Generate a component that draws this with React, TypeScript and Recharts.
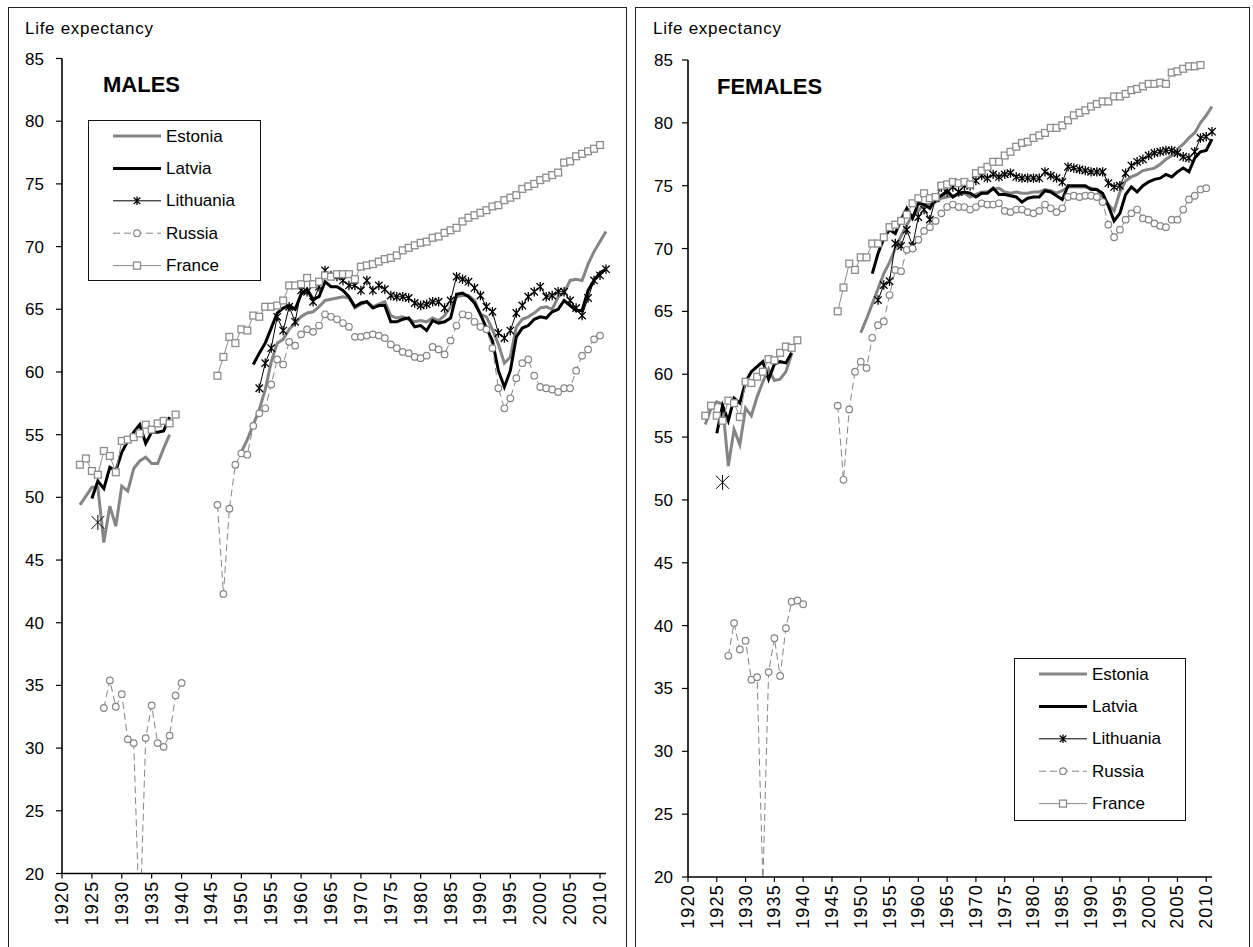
import React from "react";
import { LineChart, Line, XAxis, YAxis } from "recharts";

const _ = null;
const FONT = '"Liberation Sans", Arial, sans-serif';
const FIRST_YEAR = 1920;
const LAST_YEAR = 2011;
const YEARS = Array.from({ length: LAST_YEAR - FIRST_YEAR + 1 }, (_v, i) => FIRST_YEAR + i);
const X_TICKS = [1920, 1925, 1930, 1935, 1940, 1945, 1950, 1955, 1960, 1965, 1970, 1975, 1980, 1985, 1990, 1995, 2000, 2005, 2010];
const Y_TICKS = [20, 25, 30, 35, 40, 45, 50, 55, 60, 65, 70, 75, 80, 85];
const COUNTRIES = ["Estonia", "Latvia", "Lithuania", "Russia", "France"];

// males, one value per year 1920..2011
const M_ESTONIA = [
  _, _, _, 49.4, 50.1, 50.8, 50.8, 46.4, 49.3, 47.7,
  50.9, 50.5, 52.3, 52.9, 53.2, 52.7, 52.7, 53.9, 55.0, _,
  _, _, _, _, _, _, _, _, _, _,
  53.6, 54.6, 55.8, 57.0, 58.6, 60.8, 62.3, 62.6, 63.4, 63.9,
  64.4, 64.7, 64.8, 65.2, 65.7, 65.8, 65.9, 66.0, 65.9, 65.1,
  65.4, 65.6, 65.2, 65.4, 65.6, 64.5, 64.3, 64.4, 64.2, 64.0,
  64.1, 64.0, 64.3, 64.1, 64.5, 65.2, 66.0, 66.1, 66.1, 65.7,
  64.6, 64.4, 63.4, 62.2, 60.7, 61.2, 63.6, 64.2, 64.4, 64.7,
  65.1, 65.2, 65.0, 66.0, 66.3, 67.3, 67.4, 67.3, 68.6, 69.6,
  70.4, 71.2,
];
const M_LATVIA = [
  _, _, _, _, _, 49.9, 51.3, 50.7, 52.4, 52.1,
  53.6, 54.5, 55.2, 55.8, 54.3, 55.2, 55.2, 55.3, 56.4, _,
  _, _, _, _, _, _, _, _, _, _,
  _, _, 60.6, 61.5, 62.3, 63.5, 64.7, 65.1, 65.3, 65.0,
  66.2, 66.6, 65.8, 66.0, 67.2, 66.8, 66.8, 66.5, 66.0, 65.2,
  65.5, 65.6, 65.1, 65.3, 65.3, 64.0, 64.0, 64.2, 64.3, 63.6,
  63.7, 63.3, 64.1, 63.9, 64.0, 64.3, 66.2, 66.3, 66.0, 65.5,
  64.6, 63.5, 62.5, 60.1, 58.8, 60.1, 62.8, 63.5, 63.7, 64.2,
  64.4, 64.3, 64.8, 65.0, 65.7, 65.3, 64.9, 64.9, 66.5, 67.3,
  67.9, 68.2,
];
const M_LITHUANIA = [
  _, _, _, _, _, _, 48.0, _, _, _,
  _, _, _, _, _, _, _, _, _, _,
  _, _, _, _, _, _, _, _, _, _,
  _, _, _, 58.7, 60.7, 61.9, 64.4, 63.3, 65.2, 64.0,
  66.5, 66.4, 65.6, 66.8, 68.1, 67.7, 67.6, 67.3, 66.9, 66.9,
  66.5, 67.3, 66.5, 66.9, 66.6, 66.1, 66.0, 66.0, 65.9, 65.5,
  65.3, 65.4, 65.6, 65.6, 65.1, 65.7, 67.6, 67.4, 67.2, 66.7,
  66.1, 65.2, 64.8, 63.1, 62.7, 63.3, 64.7, 65.3, 66.0, 66.4,
  66.8, 66.0, 66.1, 66.4, 66.4, 65.7, 65.1, 64.5, 65.9, 67.3,
  67.7, 68.2,
];
const M_RUSSIA = [
  _, _, _, _, _, _, _, 33.2, 35.4, 33.3,
  34.3, 30.7, 30.4, 15.5, 30.8, 33.4, 30.4, 30.1, 31.0, 34.2,
  35.2, _, _, _, _, _, 49.4, 42.3, 49.1, 52.6,
  53.5, 53.4, 55.7, 56.7, 57.1, 59.0, 61.0, 60.6, 62.4, 62.1,
  63.0, 63.4, 63.2, 63.7, 64.6, 64.4, 64.2, 63.9, 63.6, 62.8,
  62.8, 62.9, 63.0, 62.9, 62.7, 62.2, 61.9, 61.6, 61.5, 61.2,
  61.1, 61.3, 62.0, 61.8, 61.4, 62.5, 63.7, 64.6, 64.5, 64.0,
  63.6, 63.4, 61.9, 58.7, 57.1, 57.9, 59.5, 60.7, 61.0, 59.7,
  58.8, 58.7, 58.6, 58.4, 58.7, 58.7, 60.1, 61.3, 61.8, 62.6,
  62.9, _,
];
const M_FRANCE = [
  _, _, _, 52.6, 53.1, 52.1, 51.8, 53.7, 53.3, 52.0,
  54.5, 54.6, 54.8, 55.1, 55.8, 55.4, 55.9, 56.1, 55.9, 56.6,
  _, _, _, _, _, _, 59.7, 61.2, 62.8, 62.3,
  63.4, 63.3, 64.5, 64.4, 65.2, 65.2, 65.3, 65.7, 66.9, 66.9,
  67.0, 67.5, 67.0, 67.2, 67.7, 67.6, 67.8, 67.8, 67.8, 67.4,
  68.4, 68.5, 68.6, 68.8, 69.0, 69.1, 69.3, 69.7, 69.9, 70.1,
  70.3, 70.4, 70.7, 70.8, 71.1, 71.3, 71.5, 72.0, 72.3, 72.5,
  72.7, 72.9, 73.2, 73.3, 73.7, 73.9, 74.1, 74.6, 74.8, 75.0,
  75.3, 75.5, 75.7, 75.9, 76.7, 76.8, 77.2, 77.4, 77.6, 77.8,
  78.1, _,
];

// females, one value per year 1920..2011
const F_ESTONIA = [
  _, _, _, 56.0, 57.3, 57.8, 57.6, 52.7, 55.6, 54.4,
  57.3, 56.7, 58.2, 59.4, 60.4, 59.5, 59.6, 60.2, 61.6, _,
  _, _, _, _, _, _, _, _, _, _,
  63.3, 64.4, 65.6, 66.8, 68.0, 68.9, 70.0, 71.0, 71.9, 72.6,
  73.0, 73.5, 73.5, 73.7, 74.0, 74.1, 74.2, 74.3, 74.4, 74.1,
  74.3, 74.5, 74.5, 74.7, 74.8, 74.5, 74.4, 74.5, 74.4, 74.4,
  74.5, 74.5, 74.7, 74.6, 74.4, 74.6, 74.9, 74.9, 74.9, 74.9,
  74.8, 74.7, 74.1, 73.5, 73.0, 74.5, 75.4, 75.7, 75.9, 76.2,
  76.3, 76.4, 76.7, 77.1, 77.4, 77.9, 78.3, 78.8, 79.2, 80.0,
  80.6, 81.3,
];
const F_LATVIA = [
  _, _, _, _, _, 55.3, 57.5, 56.3, 58.1, 57.7,
  59.4, 60.2, 60.6, 61.0, 59.6, 60.8, 61.0, 60.9, 61.7, _,
  _, _, _, _, _, _, _, _, _, _,
  _, _, 68.0, 69.6, 70.8, 71.5, 71.2, 72.3, 73.2, 72.4,
  73.6, 73.5, 73.2, 74.0, 74.2, 74.6, 74.1, 74.4, 74.5, 74.4,
  74.1, 74.4, 74.4, 74.8, 74.3, 74.3, 74.2, 74.1, 73.7, 74.0,
  74.1, 74.1, 74.6, 74.5, 74.2, 73.9, 75.0, 75.0, 75.0, 75.0,
  74.7, 74.7, 74.4, 73.4, 72.2, 72.8, 74.3, 74.9, 74.5, 75.0,
  75.3, 75.5, 75.6, 75.9, 75.7, 76.1, 76.4, 76.1, 77.2, 77.7,
  77.8, 78.7,
];
const F_LITHUANIA = [
  _, _, _, _, _, _, 51.4, _, _, _,
  _, _, _, _, _, _, _, _, _, _,
  _, _, _, _, _, _, _, _, _, _,
  _, _, _, 65.9, 67.1, 67.4, 70.4, 70.2, 71.5, 70.2,
  72.5, 73.1, 72.3, 74.0, 74.9, 74.5, 74.9, 74.5, 75.0, 75.0,
  75.4, 75.8, 75.6, 75.9, 75.7, 75.9, 76.0, 75.7, 75.6, 75.6,
  75.6, 75.6, 76.1, 75.8, 75.6, 75.3, 76.5, 76.4, 76.3, 76.2,
  76.1, 76.1, 76.1, 75.2, 74.9, 75.0, 76.0, 76.6, 76.9, 77.1,
  77.4, 77.6, 77.7, 77.8, 77.8, 77.6, 77.3, 77.2, 77.7, 78.8,
  78.9, 79.3,
];
const F_RUSSIA = [
  _, _, _, _, _, _, _, 37.6, 40.2, 38.1,
  38.8, 35.7, 35.9, 19.5, 36.3, 39.0, 36.0, 39.8, 41.9, 42.0,
  41.7, _, _, _, _, _, 57.5, 51.6, 57.2, 60.2,
  61.0, 60.5, 62.9, 63.9, 64.2, 66.3, 68.3, 68.2, 69.9, 70.0,
  70.7, 71.4, 71.7, 72.2, 72.8, 73.3, 73.5, 73.3, 73.3, 73.1,
  73.3, 73.6, 73.5, 73.5, 73.6, 73.0, 72.9, 73.1, 73.1, 72.9,
  72.8, 73.0, 73.5, 73.2, 72.9, 73.2, 74.1, 74.2, 74.1, 74.2,
  74.2, 74.1, 73.7, 71.9, 70.9, 71.5, 72.3, 72.8, 73.1, 72.4,
  72.3, 72.0, 71.8, 71.7, 72.3, 72.3, 73.1, 73.9, 74.2, 74.7,
  74.8, _,
];
const F_FRANCE = [
  _, _, _, 56.7, 57.5, 56.7, 56.3, 57.9, 57.7, 56.6,
  59.4, 59.3, 59.8, 60.2, 61.2, 61.1, 61.7, 62.2, 62.1, 62.7,
  _, _, _, _, _, _, 65.0, 66.9, 68.8, 68.3,
  69.3, 69.3, 70.4, 70.4, 70.9, 71.7, 71.9, 72.2, 72.7, 73.6,
  74.0, 74.4, 74.0, 74.1, 75.0, 75.1, 75.3, 75.2, 75.3, 75.1,
  76.0, 76.2, 76.5, 76.9, 76.9, 77.4, 77.7, 78.1, 78.4, 78.5,
  78.8, 79.0, 79.2, 79.6, 79.6, 79.8, 80.2, 80.6, 80.8, 81.0,
  81.3, 81.5, 81.7, 81.7, 82.1, 82.1, 82.3, 82.6, 82.7, 82.9,
  83.1, 83.1, 83.2, 83.1, 84.0, 84.1, 84.3, 84.5, 84.5, 84.6,
  _, _,
];

type Row = { year: number; Estonia: number | null; Latvia: number | null; Lithuania: number | null; Russia: number | null; France: number | null };

const buildRows = (est: any[], lat: any[], lit: any[], rus: any[], fra: any[]): Row[] =>
  YEARS.map((year, i) => ({ year, Estonia: est[i], Latvia: lat[i], Lithuania: lit[i], Russia: rus[i], France: fra[i] }));

const MALE_ROWS = buildRows(M_ESTONIA, M_LATVIA, M_LITHUANIA, M_RUSSIA, M_FRANCE);
const FEMALE_ROWS = buildRows(F_ESTONIA, F_LATVIA, F_LITHUANIA, F_RUSSIA, F_FRANCE);

const GREY = "#858585";
const LIGHT_GREY = "#8c8c8c";

function asterisk(cx: number, cy: number, r: number) {
  return `M${cx - r},${cy - r}L${cx + r},${cy + r}M${cx - r},${cy + r}L${cx + r},${cy - r}M${cx},${cy - r - 1}L${cx},${cy + r + 1}`;
}

const makeStarDot = (rows: Row[]) => (props: any) => {
  const { cx, cy, index, value } = props;
  if (value == null || cx == null || cy == null) return <g key={`s${index}`} />;
  const lone = rows[index - 1]?.Lithuania == null && rows[index + 1]?.Lithuania == null;
  const r = lone ? 6.5 : 3.7;
  return <path key={`s${index}`} d={asterisk(cx, cy, r)} stroke="#000" strokeWidth={lone ? 1 : 1.3} fill="none" />;
};

const circleDot = (props: any) => {
  const { cx, cy, index, value } = props;
  if (value == null || cx == null || cy == null) return <g key={`c${index}`} />;
  return <circle key={`c${index}`} cx={cx} cy={cy} r={3.3} fill="#fff" stroke={GREY} strokeWidth={1.2} />;
};

const squareDot = (props: any) => {
  const { cx, cy, index, value } = props;
  if (value == null || cx == null || cy == null) return <g key={`q${index}`} />;
  return <rect key={`q${index}`} x={cx - 3.4} y={cy - 3.4} width={6.8} height={6.8} fill="#fff" stroke={LIGHT_GREY} strokeWidth={1.3} />;
};

const XTick = (props: any) => {
  const { x, y, payload } = props;
  return (
    <text
      transform={`translate(${x},${y}) rotate(-90)`}
      textAnchor="end"
      dominantBaseline="central"
      fontSize={18}
      letterSpacing={1.2}
      fontFamily={FONT}
      fill="#000"
    >
      {payload.value}
    </text>
  );
};

function LegendBox({ left, top, width, height }: { left: number; top: number; width: number; height: number }) {
  const rowY = (i: number) => 16 + i * 32.4;
  const x1 = 25;
  const x2 = 73;
  const mid = (x1 + x2) / 2;
  return (
    <div style={{ position: "absolute", left, top, width, height, border: "1.5px solid #111", boxSizing: "border-box", background: "#fff" }}>
      <svg width={width} height={height} style={{ position: "absolute", left: -1.5, top: -1.5 }}>
        {COUNTRIES.map((name, i) => {
          const y = rowY(i);
          let sample: React.ReactNode = null;
          if (name === "Estonia") sample = <line x1={x1} x2={x2} y1={y} y2={y} stroke={GREY} strokeWidth={3} />;
          if (name === "Latvia") sample = <line x1={x1} x2={x2} y1={y} y2={y} stroke="#000" strokeWidth={3} />;
          if (name === "Lithuania")
            sample = (
              <g>
                <line x1={x1} x2={x2} y1={y} y2={y} stroke="#000" strokeWidth={1} />
                <path d={asterisk(mid, y, 3.3)} stroke="#000" strokeWidth={1.3} />
              </g>
            );
          if (name === "Russia")
            sample = (
              <g>
                <line x1={x1} x2={x2} y1={y} y2={y} stroke={GREY} strokeWidth={1} strokeDasharray="7 4" />
                <circle cx={mid} cy={y} r={3.3} fill="#fff" stroke={GREY} strokeWidth={1.2} />
              </g>
            );
          if (name === "France")
            sample = (
              <g>
                <line x1={x1} x2={x2} y1={y} y2={y} stroke={LIGHT_GREY} strokeWidth={1} />
                <rect x={mid - 3.5} y={y - 3.5} width={7} height={7} fill="#fff" stroke={LIGHT_GREY} strokeWidth={1.3} />
              </g>
            );
          return (
            <g key={name}>
              {sample}
              <text x={x2 + 5} y={y} dominantBaseline="central" fontSize={17} fontFamily={FONT} fill="#000">
                {name}
              </text>
            </g>
          );
        })}
      </svg>
    </div>
  );
}

type PanelProps = {
  rows: Row[];
  chartLeft: number;
  chartWidth: number;
  yAxisWidth: number;
  plotTop: number;
  plotBottom: number;
  marginRight: number;
  tickMargin: number;
};

function Panel({ rows, chartLeft, chartWidth, yAxisWidth, plotTop, plotBottom, marginRight, tickMargin }: PanelProps) {
  const H = 947;
  const xAxisHeight = 60;
  const axisStroke = { stroke: "#000", strokeWidth: 1.6 };
  return (
    <div style={{ position: "absolute", left: chartLeft, top: 0 }}>
      <LineChart
        width={chartWidth}
        height={H}
        data={rows}
        margin={{ top: plotTop, right: marginRight, left: 0, bottom: H - plotBottom - xAxisHeight }}
      >
        <XAxis
          dataKey="year"
          type="number"
          domain={[FIRST_YEAR, LAST_YEAR]}
          ticks={X_TICKS}
          interval={0}
          height={xAxisHeight}
          tickSize={5}
          tickLine={{ stroke: "#000", strokeWidth: 1.2 }}
          axisLine={axisStroke}
          tick={(p: any) => <XTick {...p} />}
        />
        <XAxis
          xAxisId="top"
          orientation="top"
          dataKey="year"
          type="number"
          domain={[FIRST_YEAR, LAST_YEAR]}
          height={0}
          tick={false}
          tickLine={false}
          axisLine={{ stroke: "#000", strokeWidth: 1.2 }}
        />
        <YAxis
          domain={[20, 85]}
          ticks={Y_TICKS}
          interval={0}
          allowDataOverflow
          width={yAxisWidth}
          tickSize={6}
          tickMargin={tickMargin}
          tickLine={{ stroke: "#000", strokeWidth: 1.2 }}
          axisLine={axisStroke}
          tick={{ fontSize: 17, fill: "#000", fontFamily: FONT }}
        />
        <YAxis
          yAxisId="right"
          orientation="right"
          domain={[20, 85]}
          width={0}
          tick={false}
          tickLine={false}
          axisLine={{ stroke: "#000", strokeWidth: 1.2 }}
        />
        <Line
          dataKey="Estonia"
          stroke={GREY}
          strokeWidth={3}
          dot={false}
          activeDot={false}
          connectNulls={false}
          isAnimationActive={false}
        />
        <Line
          dataKey="Latvia"
          stroke="#000"
          strokeWidth={3}
          dot={false}
          activeDot={false}
          connectNulls={false}
          isAnimationActive={false}
        />
        <Line
          dataKey="Lithuania"
          stroke="#000"
          strokeWidth={1}
          dot={makeStarDot(rows)}
          activeDot={false}
          connectNulls={false}
          isAnimationActive={false}
        />
        <Line
          dataKey="Russia"
          stroke={GREY}
          strokeWidth={1}
          strokeDasharray="7 4"
          dot={circleDot}
          activeDot={false}
          connectNulls={false}
          isAnimationActive={false}
        />
        <Line
          dataKey="France"
          stroke={LIGHT_GREY}
          strokeWidth={1}
          dot={squareDot}
          activeDot={false}
          connectNulls={false}
          isAnimationActive={false}
        />
      </LineChart>
    </div>
  );
}

const labelStyle: React.CSSProperties = { position: "absolute", fontSize: 17, lineHeight: 1, fontFamily: FONT, color: "#000", whiteSpace: "nowrap", letterSpacing: 0.7 };
const titleStyle: React.CSSProperties = { position: "absolute", fontSize: 22, lineHeight: 1, fontWeight: "bold", fontFamily: FONT, color: "#000", whiteSpace: "nowrap" };

export default function App() {
  return (
    <div style={{ position: "absolute", left: 0, top: 0, width: 1253, height: 947, background: "#fff", overflow: "hidden", fontFamily: FONT }}>
      <div style={{ position: "absolute", left: 8, top: 7, width: 619, height: 945, border: "1.5px solid #222", boxSizing: "border-box" }} />
      <div style={{ position: "absolute", left: 635, top: 7, width: 615, height: 945, border: "1.5px solid #222", boxSizing: "border-box" }} />

      <Panel rows={MALE_ROWS} chartLeft={0} chartWidth={627} yAxisWidth={62} plotTop={58.5} plotBottom={873.5} marginRight={21} tickMargin={12} />
      <Panel rows={FEMALE_ROWS} chartLeft={635} chartWidth={618} yAxisWidth={53} plotTop={60} plotBottom={877} marginRight={41} tickMargin={9} />

      <div style={{ ...labelStyle, left: 25, top: 20 }}>Life expectancy</div>
      <div style={{ ...labelStyle, left: 653, top: 20 }}>Life expectancy</div>
      <div style={{ ...titleStyle, left: 103, top: 74 }}>MALES</div>
      <div style={{ ...titleStyle, left: 717, top: 76 }}>FEMALES</div>

      <LegendBox left={88} top={120} width={173} height={161} />
      <LegendBox left={1014} top={658} width={172} height={163} />
    </div>
  );
}
